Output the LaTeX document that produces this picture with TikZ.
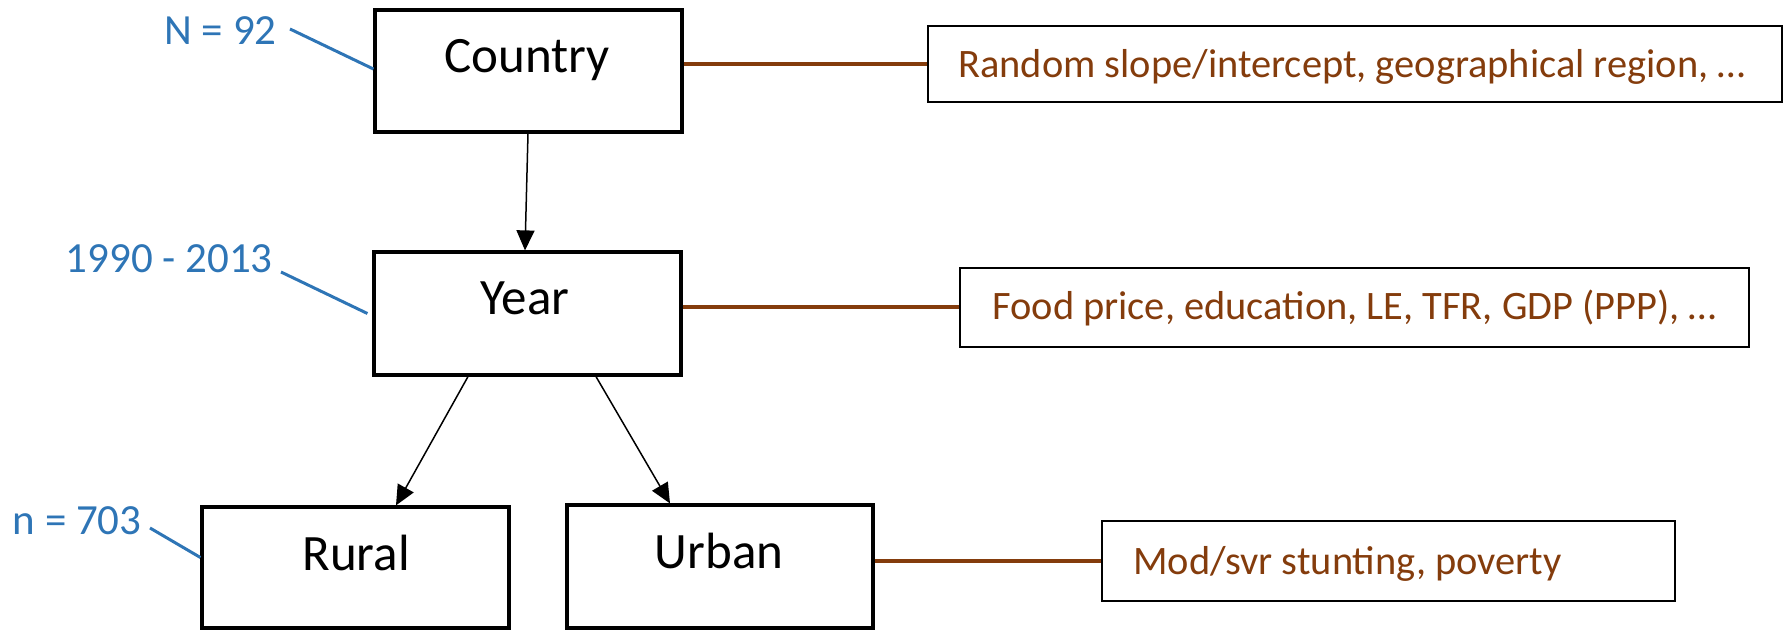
\documentclass[tikz,border=0pt]{standalone}
\usepackage{fontspec}
\setmainfont{Carlito}
\usetikzlibrary{arrows.meta,calc}
\definecolor{lblblue}{HTML}{2E75B6}
\definecolor{infobrown}{HTML}{843C0C}
\tikzset{
 mainbox/.style={draw=black, line width=1.6pt, inner sep=0pt, fill=white},
 maintext/.style={font=\fontsize{25.5}{30}\selectfont, anchor=base, inner sep=0pt},
 infobox/.style={draw=black, line width=1.3pt, inner sep=0pt},
 infotext/.style={font=\fontsize{20.2}{24}\selectfont, text=infobrown, anchor=base west, inner sep=0pt},
 lbltext/.style={font=\fontsize{21.5}{26}\selectfont, text=lblblue, anchor=base east, inner sep=0pt},
 blueline/.style={draw=lblblue, line width=1.5pt},
 brownline/.style={draw=infobrown, line width=2pt},
 arr/.style={draw=black, line width=0.75pt, -{Triangle[length=10pt,width=9pt]}},
}
\begin{document}
\begin{tikzpicture}[x=0.5pt,y=-0.5pt]
\useasboundingbox (0,0) rectangle (1785,630);
% main boxes
\node[mainbox, minimum width=153.5pt, minimum height=61pt] (country) at (528.5,71) {};
\node[mainbox, minimum width=153.5pt, minimum height=61.5pt] (year) at (527.5,313.5) {};
\node[mainbox, minimum width=153.5pt, minimum height=60.5pt] (rural) at (355.5,567.5) {};
\node[mainbox, minimum width=153pt, minimum height=61.5pt] (urban) at (720,566.5) {};
\node[maintext] (countrytxt) at (527,73) {Country};
\node[maintext] (yeartxt) at (525,315) {Year};
\node[maintext] (ruraltxt) at (356,571) {Rural};
\node[maintext] (urbantxt) at (719,569) {Urban};
% info boxes
\node[infobox, minimum width=427pt, minimum height=38pt] (random) at (1355,64) {};
\node[infobox, minimum width=394.5pt, minimum height=39.5pt] (food) at (1354.5,307.5) {};
\node[infobox, minimum width=286.5pt, minimum height=40pt] (mod) at (1388.5,561) {};
\node[infotext] (randomtxt) at (958,78) {Random slope/intercept, geographical region, …};
\node[infotext] (foodtxt) at (992,320) {Food price, education, LE, TFR, GDP (PPP), …};
\node[infotext] (modtxt) at (1133,575) {Mod/svr stunting, poverty};
% labels
\node[lbltext] (n92) at (277,45) {N = 92};
\node[lbltext] (yrs) at (273,273) {1990 - 2013};
\node[lbltext] (n703) at (142,535) {n = 703};
% blue leaders
\draw[blueline] ($(n92.base east)+(13,-16)$) -- ($(country.west)+(0,-2)$);
\draw[blueline] ($(yrs.base east)+(8,-1)$) -- ($(year.west)+(-5,0)$);
\draw[blueline] ($(n703.base east)+(8,-7)$) -- ($(rural.west)+(0,-10)$);
% brown connectors
\draw[brownline] (country.east |- random.west) -- (random.west);
\draw[brownline] (year.east |- food.west) -- (food.west);
\draw[brownline] (urban.east |- mod.west) -- (mod.west);
% arrows
\draw[arr] ($(country.south)+(-0.5,0)$) -- ($(year.north)+(-2.5,0)$);
\draw[arr] ($(year.south)+(-59.5,0)$) -- ($(rural.north)+(40.5,0)$);
\draw[arr] ($(year.south)+(68.5,0)$) -- ($(urban.north)+(-50,0)$);
\end{tikzpicture}
\end{document}
